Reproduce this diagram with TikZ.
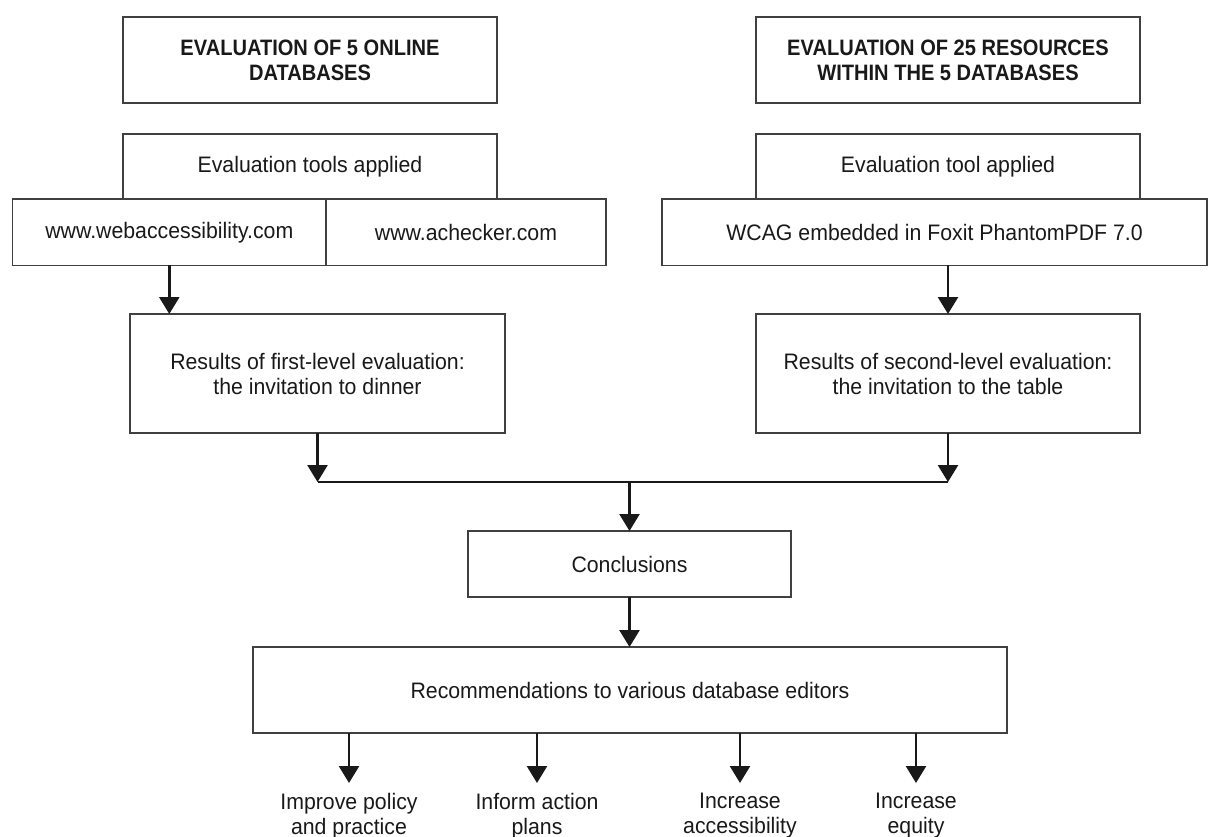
\documentclass[tikz,border=0pt]{standalone}
\usepackage{fontspec}
\setmainfont{Liberation Sans}[FakeStretch=0.95]
\newfontfamily\headfont{Liberation Sans}[FakeStretch=0.9]
\usetikzlibrary{arrows.meta}
\begin{document}
\begin{tikzpicture}[x=1pt,y=1pt,
  txt/.style={font=\fontsize{22.4}{25}\selectfont, text=black!90},
  box/.style={txt, draw=black!75, line width=1.2pt, align=center, inner sep=0pt, outer sep=0pt},
  headbox/.style={box, font=\headfont\bfseries\fontsize{22.3}{25}\selectfont},
  arr/.style={draw=black!90, line width=2.6pt, -{Triangle[width=20pt,length=17pt]}},
  ln/.style={draw=black!90, line width=2.6pt},
  lbl/.style={txt, align=center, inner xsep=0pt, inner ysep=10pt, anchor=north}]
\useasboundingbox (0,0) rectangle (1208,-837);
% headings
\node[headbox, minimum width=374pt, minimum height=86pt] (A) at (310,-60) {EVALUATION OF 5 ONLINE\\DATABASES};
\node[headbox, minimum width=384pt, minimum height=86pt] (B) at (948,-60) {EVALUATION OF 25 RESOURCES\\WITHIN THE 5 DATABASES};
% tools
\node[box, minimum width=374pt, minimum height=65pt] (TL) at (310,-166.5) {Evaluation tools applied};
\node[box, minimum width=384pt, minimum height=65pt] (TR) at (948,-166.5) {Evaluation tool applied};
\node[box, minimum width=313.3pt, minimum height=66.5pt] (U1) at (169.3,-232.25) {www.webaccessibility.com};
\node[box, minimum width=280pt, minimum height=66.5pt] (U2) at (466,-232.25) {www.achecker.com};
\node[box, minimum width=545pt, minimum height=66.5pt] (W) at (934.5,-232.25) {WCAG embedded in Foxit PhantomPDF 7.0};
% results
\node[box, minimum width=375pt, minimum height=119pt] (R1) at (317.5,-373.5) {Results of first-level evaluation:\\the invitation to dinner};
\node[box, minimum width=384pt, minimum height=119pt] (R2) at (948,-373.5) {Results of second-level evaluation:\\the invitation to the table};
% conclusions and recommendations
\node[box, minimum width=323pt, minimum height=66pt] (C) at (629.5,-564) {Conclusions};
\node[box, minimum width=754pt, minimum height=86pt] (Rec) at (630,-690) {Recommendations to various database editors};
% outcomes
\node[lbl] (L1) at (349,-783) {Improve policy\\and practice};
\node[lbl] (L2) at (537,-783) {Inform action\\plans};
\node[lbl] (L3) at (740,-783) {Increase\\accessibility};
\node[lbl] (L4) at (916,-783) {Increase\\equity};
% connectors
\coordinate (bus) at (629.5,-482);
\draw[arr] (U1.south) -- (U1.south |- R1.north);
\draw[arr] (TR.south |- W.south) -- (R2.north);
\draw[arr] (R1.south) -- (R1.south |- bus);
\draw[arr] (R2.south) -- (R2.south |- bus);
\draw[ln] (R1.south |- bus) -- (R2.south |- bus);
\draw[arr] (bus) -- (C.north);
\draw[arr] (C.south) -- (C.south |- Rec.north);
\draw[arr] (Rec.south -| L1.north) -- (L1.north);
\draw[arr] (Rec.south -| L2.north) -- (L2.north);
\draw[arr] (Rec.south -| L3.north) -- (L3.north);
\draw[arr] (Rec.south -| L4.north) -- (L4.north);
\end{tikzpicture}
\end{document}
